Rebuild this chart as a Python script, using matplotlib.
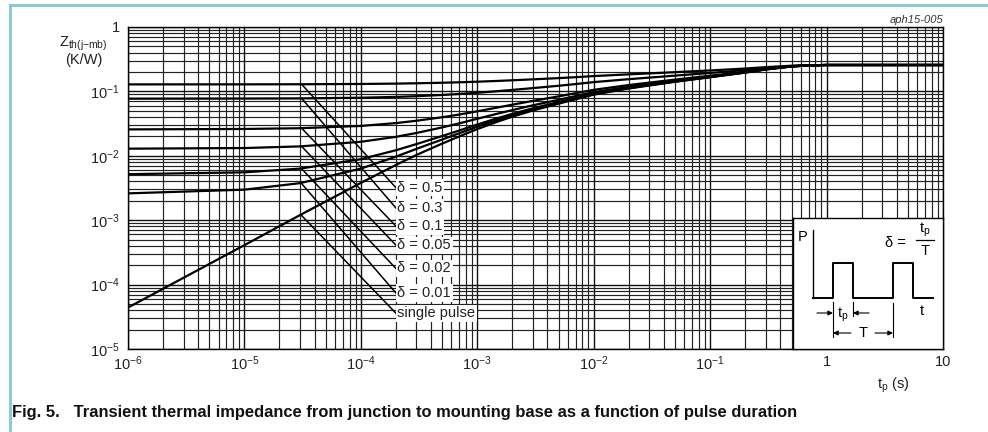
import matplotlib
matplotlib.use("Agg")
import matplotlib.pyplot as plt
from matplotlib.lines import Line2D

plt.rcParams['font.family'] = ['Liberation Sans', 'DejaVu Sans']
plt.rcParams['mathtext.fontset'] = 'custom'
plt.rcParams['mathtext.rm'] = 'Liberation Sans'
plt.rcParams['mathtext.it'] = 'Liberation Sans'
plt.rcParams['mathtext.default'] = 'regular'

# pulse duration (s) where the curves were read
tp = [1e-6, 1e-5, 3e-5, 1e-4, 2e-4, 3e-4, 5e-4, 7e-4, 1e-3, 1.5e-3, 2e-3, 3e-3,
      5e-3, 7e-3, 1e-2, 2e-2, 5e-2, 1e-1, 2e-1, 3e-1, 5e-1, 7e-1, 1, 10]

# Zth(j-mb) in K/W
z_single = [4.4e-5, 4.1e-4, 1.2e-3, 3.8e-3, 7.2e-3, 0.0103, 0.0155, 0.0200, 0.026, 0.0340,
            0.0405, 0.0505, 0.0645, 0.0755, 0.089, 0.111, 0.141, 0.166, 0.196, 0.219,
            0.244, 0.253, 0.257, 0.257]
z_d001 = [0.00261, 0.00298, 0.00376, 0.00633, 0.0097, 0.0128, 0.0179, 0.0224, 0.0283, 0.0362,
          0.0427, 0.0526, 0.0664, 0.0773, 0.0907, 0.1125, 0.1422, 0.1669, 0.1966, 0.2194,
          0.2441, 0.253, 0.257, 0.257]
z_d002 = [0.00518, 0.00554, 0.00632, 0.00886, 0.0122, 0.0152, 0.0203, 0.0247, 0.0306, 0.0385,
          0.0448, 0.0546, 0.0684, 0.0791, 0.0924, 0.1139, 0.1433, 0.1678, 0.1972, 0.2198,
          0.2443, 0.253, 0.257, 0.257]
z_d005 = [0.0129, 0.0132, 0.0140, 0.0165, 0.0197, 0.0226, 0.0276, 0.0319, 0.0376, 0.0452,
          0.0513, 0.0608, 0.0741, 0.0846, 0.0974, 0.1183, 0.1468, 0.1706, 0.1991, 0.2209,
          0.2446, 0.2532, 0.257, 0.257]
z_d01 = [0.0257, 0.0261, 0.0268, 0.0291, 0.0322, 0.0350, 0.0397, 0.0437, 0.0491, 0.0563,
         0.0622, 0.0712, 0.0838, 0.0937, 0.1058, 0.1256, 0.1526, 0.1751, 0.2021, 0.2228,
         0.2453, 0.2534, 0.257, 0.257]
z_d03 = [0.0771, 0.0774, 0.0779, 0.0798, 0.0821, 0.0843, 0.0880, 0.0911, 0.0953, 0.1009,
         0.1055, 0.1125, 0.1223, 0.1300, 0.1394, 0.1548, 0.1758, 0.1933, 0.2143, 0.2304,
         0.2479, 0.2542, 0.257, 0.257]
z_d05 = [0.1285, 0.1287, 0.1291, 0.1304, 0.1321, 0.1337, 0.1363, 0.1385, 0.1415, 0.1455,
         0.1488, 0.1538, 0.1608, 0.1663, 0.173, 0.184, 0.199, 0.2115, 0.2265, 0.238,
         0.2505, 0.255, 0.257, 0.257]

curves = [z_d05, z_d03, z_d01, z_d005, z_d002, z_d001, z_single]
labels = ['δ = 0.5', 'δ = 0.3', 'δ = 0.1', 'δ = 0.05', 'δ = 0.02', 'δ = 0.01', 'single pulse']
# leader lines: start on the curve, end at the label
lead_t0 = 3.1e-5
lead_z0 = [0.129, 0.078, 0.0268, 0.0140, 0.0063, 0.0037, 0.00118]
label_t = 2.0e-4
label_z = [3.2e-3, 1.55e-3, 8.1e-4, 4.1e-4, 1.78e-4, 7.4e-5, 3.6e-5]

xticks = [1e-6, 1e-5, 1e-4, 1e-3, 1e-2, 1e-1, 1, 10]
xticklabels = ['$10^{-6}$', '$10^{-5}$', '$10^{-4}$', '$10^{-3}$', '$10^{-2}$', '$10^{-1}$', '1', '10']
yticks = [1e-5, 1e-4, 1e-3, 1e-2, 1e-1, 1]
yticklabels = ['$10^{-5}$', '$10^{-4}$', '$10^{-3}$', '$10^{-2}$', '$10^{-1}$', '1']

W, H = 988, 432
FS = 10.5
fig = plt.figure(figsize=(W / 100, H / 100), dpi=100)
fig.patch.set_facecolor('white')

ax = fig.add_axes([128 / W, (H - 349) / H, 815 / W, 322 / H])
ax.set_xscale('log')
ax.set_yscale('log')
ax.set_xlim(1e-6, 10)
ax.set_ylim(1e-5, 1)
ax.set_xticks(xticks)
ax.set_xticklabels(xticklabels)
ax.set_yticks(yticks)
ax.set_yticklabels(yticklabels)
ax.minorticks_on()
ax.tick_params(which='both', length=0, labelsize=FS, colors='#222222')
ax.tick_params(axis='x', pad=4)
ax.tick_params(axis='y', pad=6)
ax.xaxis.set_minor_formatter(plt.NullFormatter())
ax.yaxis.set_minor_formatter(plt.NullFormatter())
ax.grid(which='major', color='#111111', lw=1.0)
ax.grid(which='minor', color='#222222', lw=0.85)
ax.set_axisbelow(True)
for s in ax.spines.values():
    s.set_color('black')
    s.set_linewidth(1.0)

for z in curves:
    ax.plot(tp, z, color='black', lw=1.6, zorder=3)

for z0, zl, lab in zip(lead_z0, label_z, labels):
    ax.plot([lead_t0, label_t], [z0, zl], color='black', lw=1.1, zorder=3)
    ax.text(label_t * 1.03, zl, lab, fontsize=FS, color='#222222', va='center', ha='left',
            zorder=4, bbox=dict(facecolor='white', edgecolor='none', pad=1.2))

# inset with the pulse train sketch (pixel-like coordinates inside the box)
ins = fig.add_axes([793 / W, (H - 349) / H, 150 / W, 131 / H])
ins.set_xlim(0, 150)
ins.set_ylim(131, 0)
ins.set_xticks([])
ins.set_yticks([])
ins.set_facecolor('white')
for s in ins.spines.values():
    s.set_color('black')
    s.set_linewidth(1.0)
ins.set_zorder(5)

wave_x = [20, 40, 40, 60, 60, 100, 100, 120, 120, 140]
wave_y = [80, 80, 45, 45, 80, 80, 45, 45, 80, 80]
ins.plot([20, 20], [12, 80], color='black', lw=1.0)
ins.plot(wave_x, wave_y, color='black', lw=1.4)
ins.text(10, 19, 'P', fontsize=FS, ha='center', va='center')
ins.text(129, 93, 't', fontsize=FS, ha='center', va='center')
ins.text(113, 25, 'δ =', fontsize=FS, ha='right', va='center')
ins.text(132, 12, '$t_p$', fontsize=FS, ha='center', va='center')
ins.plot([123, 141], [22, 22], color='black', lw=0.9)
ins.text(132, 33, 'T', fontsize=FS, ha='center', va='center')
ins.plot([40, 40], [84, 119], color='black', lw=0.8)
ins.plot([60, 60], [84, 98], color='black', lw=0.8)
ins.plot([100, 100], [85, 119], color='black', lw=0.8)
arr = dict(arrowstyle='-|>', lw=0.8, color='black', mutation_scale=7, shrinkA=0, shrinkB=0)
ins.annotate('', xy=(40, 95), xytext=(24, 95), arrowprops=arr)
ins.annotate('', xy=(60, 95), xytext=(76, 95), arrowprops=arr)
ins.text(50, 97, '$t_p$', fontsize=FS, ha='center', va='center')
ins.annotate('', xy=(40, 115), xytext=(58, 115), arrowprops=arr)
ins.annotate('', xy=(100, 115), xytext=(82, 115), arrowprops=arr)
ins.text(70, 115, 'T', fontsize=FS, ha='center', va='center')

# axis titles and annotations
fig.text(83 / W, 1 - 44 / H, r'Z$_{th(j\mathrm{-}mb)}$', fontsize=FS, ha='center', va='center', color='#222222')
fig.text(84 / W, 1 - 60 / H, '(K/W)', fontsize=FS, ha='center', va='center', color='#222222')
fig.text(893 / W, 1 - 385 / H, '$t_p$ (s)', fontsize=FS, ha='center', va='center', color='#222222')
fig.text(943 / W, 1 - 20 / H, 'aph15-005', fontsize=8, style='italic', ha='right', va='center',
         color='#333333')
fig.text(12 / W, 1 - 412 / H, 'Fig. 5.   Transient thermal impedance from junction to mounting base as a function of pulse duration',
         fontsize=11.9, fontweight='bold', ha='left', va='center', color='#111111')

# light blue page frame
fig.add_artist(Line2D([10 / W, 1], [1 - 5 / H, 1 - 5 / H], color='#8ccbd3', lw=2.2))
fig.add_artist(Line2D([10 / W, 10 / W], [0, 1 - 5 / H], color='#8ccbd3', lw=2.2))

fig.savefig('out.png', dpi=100, facecolor='white')
